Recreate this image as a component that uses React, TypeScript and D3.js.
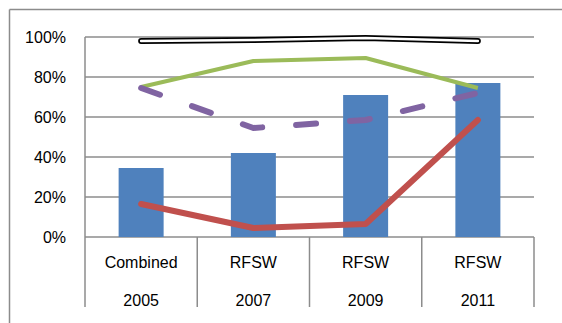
import React from "react";
import * as d3 from "d3";

const categories = ["Combined", "RFSW", "RFSW", "RFSW"];
const years = ["2005", "2007", "2009", "2011"];
const barValues = [0.345, 0.42, 0.71, 0.77];
const blackValues = [0.98, 0.985, 0.995, 0.98];
const greenValues = [0.75, 0.88, 0.895, 0.745];
const purpleValues = [0.745, 0.545, 0.585, 0.72];
const redValues = [0.165, 0.045, 0.065, 0.585];
const yTicks = [0, 0.2, 0.4, 0.6, 0.8, 1.0];

const W = 562;
const H = 323;
const left = 85;
const right = 534;
const top = 37;
const bottom = 237;
const font = "'Liberation Sans', Arial, sans-serif";
const grid = "#8c8c8c";

export default function App() {
  const x = d3.scaleBand<number>().domain(d3.range(4)).range([left, right]).paddingInner(0).paddingOuter(0);
  const y = d3.scaleLinear().domain([0, 1]).range([bottom, top]);
  const cx = (i: number) => (x(i) as number) + x.bandwidth() / 2;
  const barW = 45;
  const line = d3
    .line<number>()
    .x((_, i) => cx(i))
    .y((d) => y(d));
  const fmt = d3.format(".0%");
  const bounds = d3.range(5).map((i) => left + i * x.bandwidth());

  return (
    <svg width={W} height={H} style={{ position: "absolute", left: 0, top: 0, background: "#fff" }}>
      {/* outer frame */}
      <line x1={9.5} y1={9.5} x2={W} y2={9.5} stroke={grid} strokeWidth={1.5} />
      <line x1={9.5} y1={9.5} x2={9.5} y2={H} stroke={grid} strokeWidth={1.5} />
      {/* gridlines */}
      {yTicks.map((t) => (
        <line key={t} x1={left} x2={right} y1={y(t)} y2={y(t)} stroke={grid} strokeWidth={1.5} />
      ))}
      <line x1={left} x2={left} y1={top} y2={bottom} stroke={grid} strokeWidth={1.5} />
      {/* y labels */}
      {yTicks.map((t) => (
        <text key={t} x={66} y={y(t)} dy="0.35em" textAnchor="end" fontFamily={font} fontSize={16} fill="#000">
          {fmt(t)}
        </text>
      ))}
      {/* bars */}
      {barValues.map((v, i) => (
        <rect key={i} x={cx(i) - barW / 2} y={y(v)} width={barW} height={bottom - y(v)} fill="#4F81BD" />
      ))}
      {/* category axis */}
      {bounds.map((b, i) => (
        <line key={i} x1={b} x2={b} y1={bottom} y2={307} stroke={grid} strokeWidth={1.5} />
      ))}
      {categories.map((c, i) => (
        <text key={i} x={cx(i)} y={268} textAnchor="middle" fontFamily={font} fontSize={16} fill="#000">
          {c}
        </text>
      ))}
      {years.map((c, i) => (
        <text key={i} x={cx(i)} y={306} textAnchor="middle" fontFamily={font} fontSize={16} fill="#000">
          {c}
        </text>
      ))}
      {/* lines */}
      <path d={line(blackValues) || ""} fill="none" stroke="#000" strokeWidth={6} strokeLinecap="round" strokeLinejoin="round" />
      <path d={line(blackValues) || ""} fill="none" stroke="#fff" strokeWidth={2.5} strokeLinecap="round" strokeLinejoin="round" />
      <path d={line(greenValues) || ""} fill="none" stroke="#9BBB59" strokeWidth={4} strokeLinejoin="round" />
      <path
        d={line(purpleValues) || ""}
        fill="none"
        stroke="#8064A2"
        strokeWidth={6}
        strokeLinecap="round"
        strokeLinejoin="round"
        strokeDasharray="20,34"
      />
      <path d={line(redValues) || ""} fill="none" stroke="#C0504D" strokeWidth={6} strokeLinecap="round" strokeLinejoin="round" />
    </svg>
  );
}
